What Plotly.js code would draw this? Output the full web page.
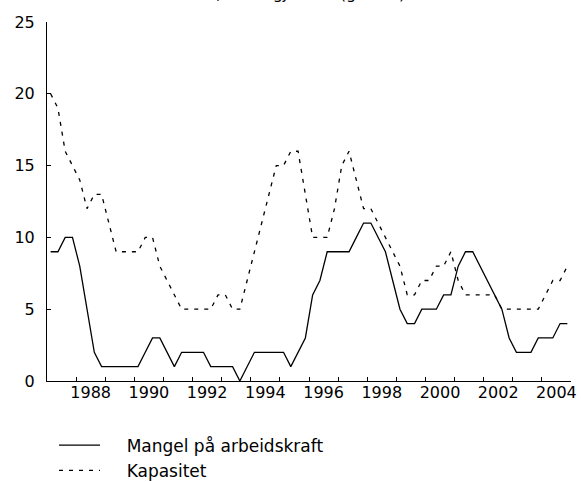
<!DOCTYPE html>
<html>
<head>
<meta charset="utf-8">
<script src="https://cdn.plot.ly/plotly-3.0.1.min.js"></script>
<style>html,body{margin:0;padding:0;background:#fff;}#chart{width:581px;height:482px;}</style>
</head>
<body>
<div id="chart"></div>
<script>
// Quarterly periods 1987K1 .. 2004K4
const firstYear = 1987, lastYear = 2004;
const quarters = [];
for (let y = firstYear; y <= lastYear; y++) for (let q = 1; q <= 4; q++) quarters.push(y + 'K' + q);

const mangelPaArbeidskraft = [
  9,9,10,10,8,5,2,1,1,1,
  1,1,1,2,3,3,2,1,2,2,
  2,2,1,1,1,1,0,1,2,2,
  2,2,2,1,2,3,6,7,9,9,
  9,9,10,11,11,10,9,7,5,4,
  4,5,5,5,6,6,8,9,9,8,
  7,6,5,3,2,2,2,3,3,3,
  4,4
];
const kapasitet = [
  20,19,16,15,14,12,13,13,11,9,
  9,9,9,10,10,8,7,6,5,5,
  5,5,5,6,6,5,5,7,9,11,
  13,15,15,16,16,13,10,10,10,12,
  15,16,14,12,12,11,10,9,8,6,
  6,7,7,8,8,9,7,6,6,6,
  6,6,5,5,5,5,5,5,6,7,
  7,8
];
const seriesNames = ['Mangel på arbeidskraft', 'Kapasitet'];
const yTicks = [0, 5, 10, 15, 20, 25];
const yearTickLabels = ['1988','1990','1992','1994','1996','1998','2000','2002','2004'];
const titleText = 'Prosent av bedriftene, sesongjustert (glattet)';

// position each quarter at its middle, on a continuous year scale
const xPos = quarters.map(p => { const [y, q] = p.split('K').map(Number); return y + (q - 0.5) / 4; });
const yearBoundaries = [];
for (let y = firstYear; y <= lastYear + 1; y++) yearBoundaries.push(y);
const labelPos = yearTickLabels.map(s => Number(s) + 0.5);

const FONT = 'DejaVu Sans, Liberation Sans, Arial, sans-serif';
const PAD = '\u00a0\u00a0\u00a0\u00a0';

const traces = [
  { x: xPos, y: mangelPaArbeidskraft, name: PAD + seriesNames[0], type: 'scatter', mode: 'lines',
    line: { color: '#000', width: 1.3 }, hoverinfo: 'skip' },
  { x: xPos, y: kapasitet, name: PAD + seriesNames[1], type: 'scatter', mode: 'lines',
    line: { color: '#000', width: 1.3, dash: '4px,6px' }, hoverinfo: 'skip' },
  { x: labelPos, y: labelPos.map(() => null), xaxis: 'x2', type: 'scatter', mode: 'lines',
    showlegend: false, hoverinfo: 'skip' }
];

const layout = {
  width: 581, height: 482,
  margin: { l: 47, r: 10, t: 22, b: 101, autoexpand: false },
  paper_bgcolor: '#fff', plot_bgcolor: '#fff',
  font: { family: FONT, size: 16, color: '#000' },
  showlegend: true,
  legend: { x: 0.0134, y: -0.13, xanchor: 'left', yanchor: 'top', orientation: 'v',
            font: { family: FONT, size: 17, color: '#000' }, bgcolor: 'rgba(0,0,0,0)',
            itemwidth: 41, tracegroupgap: 0 },
  xaxis: {
    range: [firstYear, lastYear + 1], showgrid: false, zeroline: false,
    showline: true, linecolor: '#000', linewidth: 1,
    tickmode: 'array', tickvals: yearBoundaries, showticklabels: false,
    ticks: 'inside', ticklen: 4, tickcolor: '#000', tickwidth: 1
  },
  xaxis2: {
    overlaying: 'x', matches: 'x', range: [firstYear, lastYear + 1], showgrid: false, zeroline: false,
    showline: false, tickmode: 'array', tickvals: labelPos, ticktext: yearTickLabels,
    ticks: '', tickfont: { family: FONT, size: 16, color: '#000' }, side: 'bottom', anchor: 'y'
  },
  yaxis: {
    range: [0, 25], showgrid: false, zeroline: false,
    showline: true, linecolor: '#000', linewidth: 1,
    tickmode: 'array', tickvals: yTicks,
    ticks: 'inside', ticklen: 4, tickcolor: '#000', tickwidth: 1,
    tickfont: { family: FONT, size: 16, color: '#000' }, ticklabelstandoff: 8
  },
  annotations: [
    { text: titleText, xref: 'paper', yref: 'paper', x: -0.01, y: 1, yshift: 17, xanchor: 'left', yanchor: 'bottom',
      showarrow: false, font: { family: FONT, size: 16, color: '#000' } }
  ]
};

Plotly.newPlot('chart', traces, layout, { staticPlot: true, displayModeBar: false });
</script>
</body>
</html>
